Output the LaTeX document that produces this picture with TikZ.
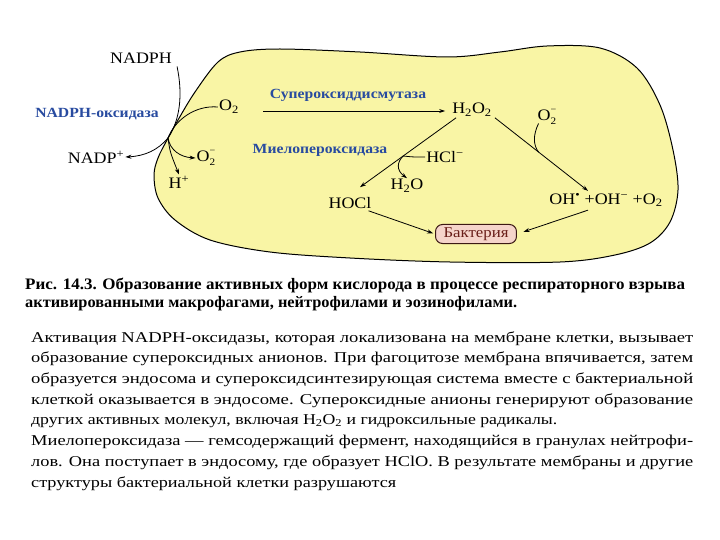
\documentclass[tikz,border=0pt]{standalone}
\usepackage{fontspec}
\setmainfont{Liberation Serif}[FakeStretch=1.12]
\usepackage{graphicx}
\usetikzlibrary{arrows.meta}
\definecolor{blobfill}{RGB}{249,245,165}
\definecolor{enzblue}{RGB}{40,75,160}
\definecolor{bacfill}{RGB}{245,212,202}
\definecolor{bacline}{RGB}{60,25,20}
\definecolor{bactext}{RGB}{105,30,25}
\newcommand{\ssp}[2]{\makebox[0pt][l]{\raisebox{1.05ex}{\fontsize{9}{9}\selectfont #2}}\raisebox{-0.5ex}{\fontsize{10}{10}\selectfont #1}}
\begin{document}
\begin{tikzpicture}[x=1pt,y=-1pt,
  lbl/.style={font=\fontsize{16}{18}\selectfont, inner sep=1pt},
  enz/.style={font=\fontsize{14}{16}\selectfont\bfseries, text=enzblue, inner sep=1pt},
  arr/.style={-{Stealth[length=6pt,width=4pt]}, line width=0.8pt},
  con/.style={line width=0.8pt},
  bact/.style={draw=bacline, fill=bacfill, rounded corners=7pt, line width=1pt, text=bactext,
    inner xsep=8pt, inner ysep=2pt, minimum height=19pt, font=\fontsize{15}{17}\selectfont},
  txtline/.style={anchor=base west, inner sep=0pt, font=\fontsize{15}{18}\selectfont},
  capline/.style={anchor=base west, inner sep=0pt, font=\fontsize{16}{18}\selectfont\bfseries}]

\fill[white] (0,0) rectangle (720,540);
\useasboundingbox (0,0) rectangle (720,540);

% cell body
\draw[line width=1pt, fill=blobfill] plot[smooth cycle, tension=0.55] coordinates {
  (154,175) (158,198) (175,220) (210,240) (270,252) (350,258) (450,262) (560,262)
  (615,255) (650,243) (670,222) (678,190) (673,150) (660,105) (637,68) (600,48)
  (547,46) (500,52) (447,57) (360,52) (280,49) (240,52) (218,62) (195,92)
  (178,120) (167,140) (158,158)};

% labels
\node[lbl] (nadph) at (141,58) {NADPH};
\node[enz] (nox) at (97,114) {NADPH-оксидаза};
\node[lbl] (nadpp) at (96,157) {NADP\textsuperscript{+}};
\node[lbl] (o2a) at (229,107) {O\textsubscript{2}};
\node[lbl] (o2m) at (206,158) {O\ssp{2}{−}};
\node[lbl] (hp) at (179,182) {H\textsuperscript{+}};
\node[enz] (sod) at (348,95) {Супероксиддисмутаза};
\node[lbl] (h2o2) at (472,110) {H\textsubscript{2}O\textsubscript{2}};
\node[lbl] (o2r) at (547,117) {O\ssp{2}{−}};
\node[enz] (mpo) at (320,150) {Миелопероксидаза};
\node[lbl] (hcl) at (445,157) {HCl\textsuperscript{−}};
\node[lbl] (h2o) at (407,186) {H\textsubscript{2}O};
\node[lbl] (hocl) at (350,203) {HOCl};
\node[lbl] (oh) at (606,200) {OH\textsuperscript{•} +OH\textsuperscript{−} +O\textsubscript{2}};
\node[bact] (bac) at (476,234) {Бактерия};

% NADPH oxidase junction
\coordinate (jn) at (168,138);
\draw[arr] ([shift={(4,2)}]nadph.south east) .. controls (183,95) and (180,120) .. (jn)
  .. controls (158,150) and (145,156) .. (nadpp.east);
\draw[con] (jn) .. controls (175,120) and (195,105) .. (o2a.west);
\draw[arr] (jn) .. controls (170,150) and (180,157) .. (o2m.west);
\draw[arr] (jn) .. controls (170,152) .. (hp.north);

% superoxide dismutase
\coordinate (sodst) at (263,111);
\draw[arr, shorten >=6pt] (sodst) -- (sodst -| h2o2.west);

% myeloperoxidase branch
\draw[arr] ([shift={(5,0)}]h2o2.south west) -- ([shift={(10,-9)}]hocl.north)
  coordinate[pos=0.55] (mp);
\draw[con] (hcl.west) .. controls (412,157) .. (mp);
\draw[arr] (mp) .. controls (397,162) and (396,170) .. (h2o.north);

% hydroxyl radical branch
\draw[arr] ([shift={(2,0)}]h2o2.south east) -- ([shift={(-18,-1)}]oh.north)
  coordinate[pos=0.47] (mp2);
\draw[con] ([shift={(2,-2)}]o2r.south west) .. controls (533,135) and (533,145) .. (mp2);

% to bacterium
\draw[arr, shorten >=2pt] ([shift={(-4,1)}]hocl.south east) -- (bac.west);
\draw[arr, shorten >=7pt] ([shift={(-18,2)}]oh.south) -- (bac.east);

% caption
\node[capline] (cap1) at (25,289) {\resizebox{660pt}{\height}{Рис. 14.3. Образование активных форм кислорода в процессе респираторного взрыва}};
\node[capline] (cap2) at (25,307) {\resizebox{492pt}{\height}{активированными макрофагами, нейтрофилами и эозинофилами.}};

% body text
\node[txtline] (t1) at (31,342) {\resizebox{662pt}{\height}{Активация NADPH-оксидазы, которая локализована на мембране клетки, вызывает}};
\node[txtline] (t2) at (31,362.7) {\resizebox{662pt}{\height}{образование супероксидных анионов. При фагоцитозе мембрана впячивается, затем}};
\node[txtline] (t3) at (31,383.4) {\resizebox{662pt}{\height}{образуется эндосома и супероксидсинтезирующая система вместе с бактериальной}};
\node[txtline] (t4) at (31,404.1) {\resizebox{662pt}{\height}{клеткой оказывается в эндосоме. Супероксидные анионы генерируют образование}};
\node[txtline] (t5) at (31,424.8) {\resizebox{526pt}{\height}{других активных молекул, включая H\textsubscript{2}O\textsubscript{2} и гидроксильные радикалы.}};
\node[txtline] (t6) at (31,445.5) {\resizebox{662pt}{\height}{Миелопероксидаза — гемсодержащий фермент, находящийся в гранулах нейтрофи-}};
\node[txtline] (t7) at (31,466.2) {\resizebox{662pt}{\height}{лов. Она поступает в эндосому, где образует HClO. В результате мембраны и другие}};
\node[txtline] (t8) at (31,487) {\resizebox{365pt}{\height}{структуры бактериальной клетки разрушаются}};
\end{tikzpicture}
\end{document}
